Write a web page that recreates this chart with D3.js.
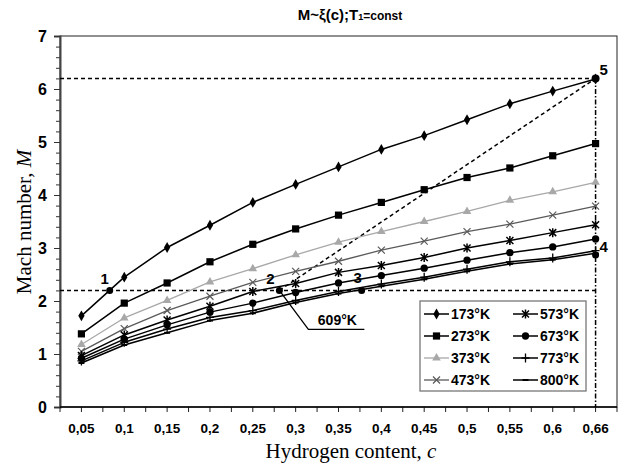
<!DOCTYPE html>
<html>
<head>
<meta charset="utf-8">
<script src="https://cdn.jsdelivr.net/npm/d3@7"></script>
<style>
  body { margin: 0; background: #fff; }
  svg { display: block; }
</style>
</head>
<body>
<svg id="chart"></svg>
<script>
// hydrogen content categories (x axis)
let categories = ["0,05", "0,1", "0,15", "0,2", "0,25", "0,3", "0,35", "0,4", "0,45", "0,5", "0,55", "0,6", "0,66"]

// Mach number for each temperature
let temps = ["173°K", "273°K", "373°K", "473°K", "573°K", "673°K", "773°K", "800°K"]
let m173 = [1.72, 2.45, 3.01, 3.43, 3.86, 4.20, 4.53, 4.86, 5.12, 5.42, 5.72, 5.96, 6.19]
let m273 = [1.38, 1.96, 2.34, 2.74, 3.07, 3.36, 3.62, 3.86, 4.10, 4.33, 4.51, 4.74, 4.97]
let m373 = [1.18, 1.68, 2.01, 2.36, 2.61, 2.87, 3.11, 3.31, 3.50, 3.69, 3.90, 4.06, 4.24]
let m473 = [1.05, 1.48, 1.82, 2.09, 2.35, 2.56, 2.75, 2.96, 3.13, 3.31, 3.45, 3.62, 3.79]
let m573 = [0.97, 1.36, 1.64, 1.90, 2.18, 2.33, 2.54, 2.67, 2.82, 3.00, 3.14, 3.29, 3.44]
let m673 = [0.92, 1.28, 1.55, 1.79, 1.96, 2.16, 2.34, 2.48, 2.62, 2.77, 2.91, 3.02, 3.17]
let m773 = [0.87, 1.22, 1.47, 1.69, 1.82, 2.01, 2.18, 2.32, 2.45, 2.60, 2.74, 2.81, 2.95]
let m800 = [0.83, 1.17, 1.40, 1.63, 1.77, 1.97, 2.14, 2.28, 2.41, 2.56, 2.70, 2.78, 2.90]
let seriesValues = [m173, m273, m373, m473, m573, m673, m773, m800]

// marked points: position along the category axis (index) and Mach number
let pointNames = ["1", "2", "3", "4", "5"]
let pointIndex = [0.66, 4.62, 6.54, 12, 12]
let pointMach = [2.2, 2.2, 2.2, 2.87, 6.2]
let refLevels = [2.2, 6.2]
let yTicks = [0, 1, 2, 3, 4, 5, 6, 7]

let width = 620
let height = 467
let margin = {top: 36, right: 3, bottom: 60, left: 60}

let svg = d3.select("#chart")
            .attr("width", width)
            .attr("height", height)
            .style("font-family", "'Liberation Sans', Arial, sans-serif")

let X = d3.scaleBand()
          .domain(categories)
          .range([margin.left, width - margin.right])
let half = X.bandwidth() / 2
let XI = d3.scaleLinear()
           .domain([0, categories.length - 1])
           .range([X(categories[0]) + half, X(categories[categories.length - 1]) + half])
let Y = d3.scaleLinear()
          .domain([0, 7])
          .range([height - margin.bottom, margin.top])

// series styles
let styles = [
    {color: "#000", width: 1.5, marker: "diamond"},
    {color: "#000", width: 1.5, marker: "square"},
    {color: "#a8a8a8", width: 1.3, marker: "triangle"},
    {color: "#5a5a5a", width: 1.3, marker: "x"},
    {color: "#000", width: 1.5, marker: "star"},
    {color: "#000", width: 1.5, marker: "circle"},
    {color: "#000", width: 1.5, marker: "plus"},
    {color: "#000", width: 1.5, marker: "dash"}
]

function drawMarker(g, type, color) {
    if (type === "diamond") {
        g.append("path").attr("d", d3.symbol(d3.symbolDiamond, 34)()).attr("fill", color)
    } else if (type === "square") {
        g.append("path").attr("d", d3.symbol(d3.symbolSquare, 52)()).attr("fill", color)
    } else if (type === "triangle") {
        g.append("path").attr("d", d3.symbol(d3.symbolTriangle, 32)()).attr("fill", color)
    } else if (type === "circle") {
        g.append("path").attr("d", d3.symbol(d3.symbolCircle, 42)()).attr("fill", color)
    } else if (type === "x") {
        g.append("path").attr("d", "M-3.5,-3.5L3.5,3.5M-3.5,3.5L3.5,-3.5")
         .attr("stroke", color).attr("stroke-width", 1.2).attr("fill", "none")
    } else if (type === "star") {
        g.append("path").attr("d", "M-3.5,-3.5L3.5,3.5M-3.5,3.5L3.5,-3.5M0,-4.5L0,4.5")
         .attr("stroke", color).attr("stroke-width", 1.5).attr("fill", "none")
    } else if (type === "plus") {
        g.append("path").attr("d", "M-4,0L4,0M0,-4.5L0,4.5")
         .attr("stroke", color).attr("stroke-width", 1.3).attr("fill", "none")
    } else if (type === "dash") {
        g.append("path").attr("d", "M-3,0L3,0")
         .attr("stroke", color).attr("stroke-width", 2).attr("fill", "none")
    }
}

// Plot frame
svg.append("rect")
   .attr("x", margin.left)
   .attr("y", margin.top)
   .attr("width", width - margin.right - margin.left)
   .attr("height", height - margin.bottom - margin.top)
   .attr("fill", "none")
   .attr("stroke", "#222")
   .attr("stroke-width", 1)

// Y axis with minor ticks
svg.append("g")
   .attr("transform", "translate(" + margin.left + ",0)")
   .call(d3.axisLeft(Y).tickValues(d3.range(0, 71, 2).map(d => d / 10)).tickSize(4).tickFormat(""))
   .call(g => g.select(".domain").remove())
   .selectAll("line").attr("stroke", "#333")

let yAxis = svg.append("g")
   .attr("transform", "translate(" + margin.left + ",0)")
   .call(d3.axisLeft(Y).tickValues(yTicks).tickSize(6).tickPadding(7).tickFormat(d3.format("d")))
yAxis.select(".domain").attr("stroke", "#444").attr("stroke-width", 2)
yAxis.selectAll("line").attr("stroke", "#333")
yAxis.selectAll("text")
     .style("font-size", "16px")
     .style("font-weight", "bold")
     .attr("fill", "#000")

// X axis: ticks at band edges and centres
let xEdges = []
categories.forEach((c) => {
    xEdges.push(X(c))
    xEdges.push(X(c) + half)
})
xEdges.push(width - margin.right)
svg.append("g")
   .selectAll("line")
   .data(xEdges)
   .enter()
   .append("line")
   .attr("x1", d => d).attr("x2", d => d)
   .attr("y1", Y(0)).attr("y2", Y(0) + 5)
   .attr("stroke", "#222")

svg.append("line")
   .attr("x1", margin.left).attr("x2", width - margin.right)
   .attr("y1", Y(0)).attr("y2", Y(0))
   .attr("stroke", "#000").attr("stroke-width", 1.5)

svg.append("g")
   .selectAll("text")
   .data(categories)
   .enter()
   .append("text")
   .attr("x", d => X(d) + half)
   .attr("y", Y(0) + 26)
   .attr("text-anchor", "middle")
   .style("font-size", "13.5px")
   .style("font-weight", "bold")
   .text(d => d)

// Axis titles
svg.append("text")
   .attr("x", 351)
   .attr("y", 458)
   .attr("text-anchor", "middle")
   .style("font-family", "'Liberation Serif', 'Times New Roman', serif")
   .style("font-size", "21px")
   .html('Hydrogen content, <tspan font-style="italic">c</tspan>')

svg.append("text")
   .attr("transform", "translate(31,222) rotate(-90)")
   .attr("text-anchor", "middle")
   .style("font-family", "'Liberation Serif', 'Times New Roman', serif")
   .style("font-size", "21px")
   .html('Mach number, <tspan font-style="italic">M</tspan>')

// Title
svg.append("text")
   .attr("x", 350)
   .attr("y", 20)
   .attr("text-anchor", "middle")
   .style("font-size", "15px")
   .style("font-weight", "bold")
   .html('M~ξ(c);T<tspan font-size="9px">1</tspan><tspan font-size="12px">=const</tspan>')

// Reference dashed lines
let dashed = svg.append("g")
                .attr("stroke", "#000")
                .attr("stroke-width", 1.5)
                .attr("fill", "none")
refLevels.forEach((m) => {
    dashed.append("line")
          .attr("x1", margin.left).attr("x2", XI(12))
          .attr("y1", Y(m)).attr("y2", Y(m))
          .attr("stroke-dasharray", "4,3")
})
dashed.append("line")
      .attr("x1", XI(pointIndex[1])).attr("y1", Y(pointMach[1]))
      .attr("x2", XI(pointIndex[4])).attr("y2", Y(pointMach[4]))
      .attr("stroke-dasharray", "4,3")
dashed.append("line")
      .attr("x1", XI(12)).attr("y1", Y(pointMach[4]))
      .attr("x2", XI(12)).attr("y2", Y(0))
      .attr("stroke-dasharray", "5,2,1.5,2")

// Series lines and markers
let line = d3.line()
             .x((d, i) => XI(i))
             .y(d => Y(d))

seriesValues.forEach((vals, s) => {
    let st = styles[s]
    svg.append("path")
       .attr("fill", "none")
       .attr("stroke", st.color)
       .attr("stroke-width", st.width)
       .attr("stroke-linejoin", "round")
       .attr("d", line(vals))
    vals.forEach((v, i) => {
        let g = svg.append("g").attr("transform", "translate(" + XI(i) + "," + Y(v) + ")")
        drawMarker(g, st.marker, st.color)
    })
})

// Marked points with numbers
let labelShift = [[-5, -6], [-9, -6], [-4, -7], [8, -3], [8, -3]]
pointNames.forEach((name, i) => {
    let px = XI(pointIndex[i])
    let py = Y(pointMach[i])
    svg.append("circle")
       .attr("cx", px).attr("cy", py)
       .attr("r", i === 4 ? 4 : 3.5)
       .attr("fill", "#000")
    svg.append("text")
       .attr("x", px + labelShift[i][0])
       .attr("y", py + labelShift[i][1])
       .attr("text-anchor", "middle")
       .style("font-size", "15px")
       .style("font-weight", "bold")
       .text(name)
})

// 609°K leader
let p2x = XI(pointIndex[1])
let p2y = Y(pointMach[1])
svg.append("polyline")
   .attr("points", [[p2x, p2y], [p2x + 29, p2y + 39], [p2x + 85, p2y + 39]].map(p => p.join(",")).join(" "))
   .attr("fill", "none")
   .attr("stroke", "#000")
   .attr("stroke-width", 1.3)
svg.append("text")
   .attr("x", p2x + 58)
   .attr("y", p2y + 35)
   .attr("text-anchor", "middle")
   .style("font-size", "14px")
   .style("font-weight", "bold")
   .text("609°K")

// Legend
let legend = svg.append("g")
legend.append("rect")
      .attr("x", 420).attr("y", 301)
      .attr("width", 166).attr("height", 90)
      .attr("fill", "#fff")
      .attr("stroke", "#777")
      .attr("stroke-width", 1.3)
temps.forEach((t, i) => {
    let col = Math.floor(i / 4)
    let row = i % 4
    let lx = col === 0 ? 424 : 513
    let ly = 314 + row * 22
    let st = styles[i]
    legend.append("line")
          .attr("x1", lx).attr("x2", lx + 25)
          .attr("y1", ly).attr("y2", ly)
          .attr("stroke", st.color)
          .attr("stroke-width", st.width)
    let g = legend.append("g").attr("transform", "translate(" + (lx + 12.5) + "," + ly + ")")
    drawMarker(g, st.marker, st.color)
    legend.append("text")
          .attr("x", lx + 27)
          .attr("y", ly + 5)
          .style("font-size", "14px")
          .style("font-weight", "bold")
          .text(t)
})
</script>
</body>
</html>
